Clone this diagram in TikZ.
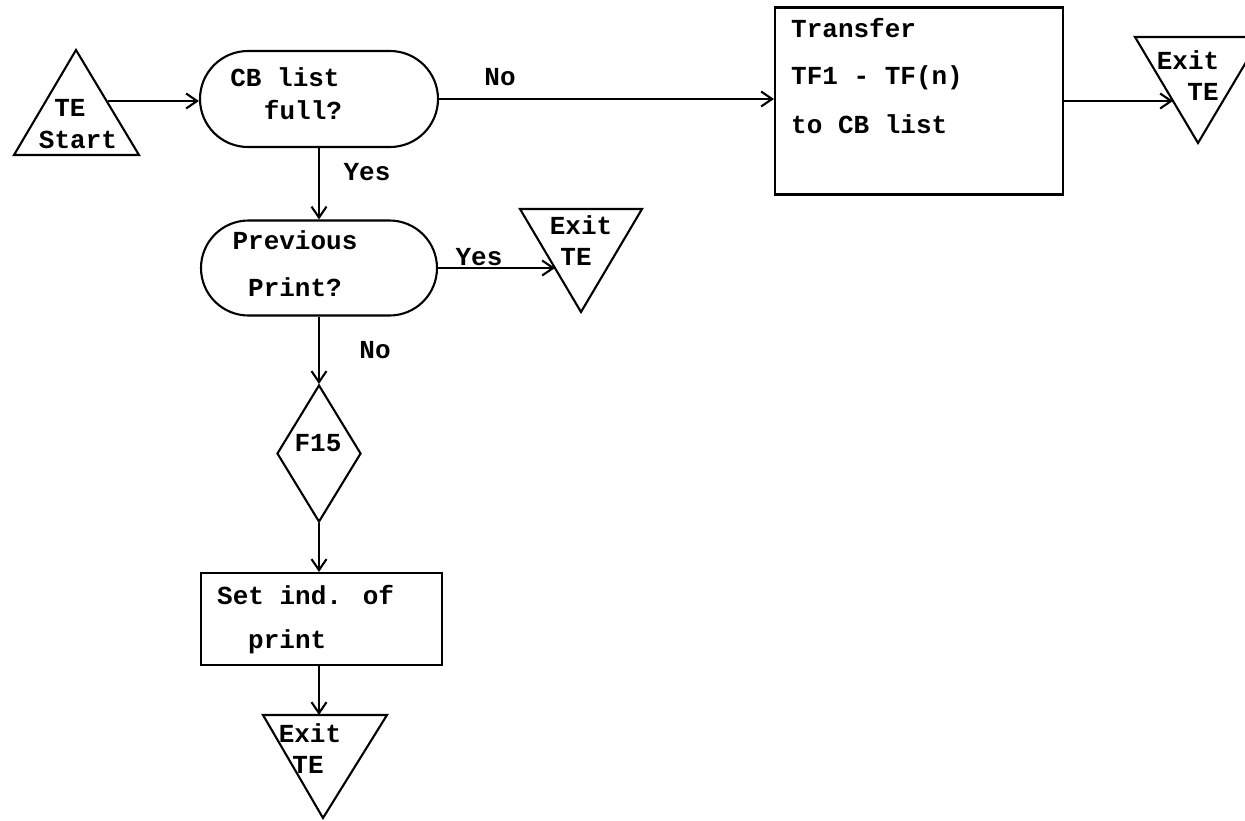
\documentclass[tikz,border=0pt]{standalone}
\usepackage{fontspec}
\setmainfont{Liberation Mono}
\usetikzlibrary{arrows.meta,shapes.misc,shapes.geometric}
\tikzset{
  lw/.style={line width=2.1pt},
  stadium/.style={draw, lw, rounded rectangle, inner sep=0pt},
  boxnode/.style={draw, lw, rectangle, inner sep=0pt},
  dia/.style={draw, lw, diamond, inner sep=0pt, aspect=1},
  tri/.style={draw, lw, line join=miter},
  arr/.style={draw, lw, -{Straight Barb[length=11pt,width=15pt,line width=2.1pt]}},
  txt/.style={inner sep=0pt, font=\bfseries\fontsize{26}{30}\selectfont},
}
\begin{document}
\begin{tikzpicture}[x=1pt,y=-1pt]
\useasboundingbox (0,0) rectangle (1245,820);
% start triangle
\draw[tri] (14,155) -- (76,50) -- (139,155) -- cycle;
\node[txt] (tSte) at (70,108) {TE};
\node[txt] (tSst) at (78,140) {Start};
\coordinate (stR) at (108,101);

% CB list full?
\node[stadium, minimum width=238pt, minimum height=96pt] (cb) at (319,99) {};
\node[txt] (tcb1) at (285,77) {CB list};
\node[txt] (tcb2) at (303,110) {full?};

% Transfer box
\node[boxnode, minimum width=288pt, minimum height=187pt] (tr) at (919,101) {};
\node[txt, anchor=west] (ttr1) at (791,28) {Transfer};
\node[txt, anchor=west] (ttr2) at (791,78) {TF1 - TF(n)};
\node[txt, anchor=west] (ttr3) at (791,124) {to CB list};

% right exit triangle
\draw[tri] (1135,37) -- (1261,37) -- (1198,143) -- cycle;
\node[txt] (tex2a) at (1188,60) {Exit};
\node[txt] (tex2b) at (1203,92) {TE};
\coordinate (ex2in) at (1173,101);

% Previous Print?
\node[stadium, minimum width=236pt, minimum height=95pt] (pp) at (319,268) {};
\node[txt] (tpp1) at (295,240) {Previous};
\node[txt] (tpp2) at (295,287) {Print?};

% middle exit triangle
\draw[tri] (520,209) -- (642,209) -- (581,312) -- cycle;
\node[txt] (tex1a) at (581,225) {Exit};
\node[txt] (tex1b) at (576,257) {TE};
\coordinate (ex1in) at (555,268);

% F15 diamond
\node[dia, minimum width=84pt, minimum height=137pt] (f15) at (319,453.5) {};
\node[txt] (tf15) at (318,443) {F15};

% Set ind. of print box
\node[boxnode, minimum width=241pt, minimum height=92pt] (sb) at (321.5,619) {};
\node[txt, anchor=west] (tsb1) at (217,595) {Set ind. of};
\node[txt, anchor=west] (tsb2) at (248,642) {print};

% bottom exit triangle
\draw[tri] (263,715) -- (387,715) -- (323,818) -- cycle;
\node[txt] (tex3a) at (310,733) {Exit};
\node[txt] (tex3b) at (308,765) {TE};
\coordinate (ex3top) at (319,715);

% connectors
\draw[arr] (stR) -- (stR -| cb.west);
\draw[arr] (cb.east) -- (cb.east -| tr.west);
\draw[arr] (tr.east) -- (ex2in);
\draw[arr] (cb.south) -- (pp.north);
\draw[arr] (pp.east) -- (ex1in);
\draw[arr] (pp.south) -- (f15.north);
\draw[arr] (f15.south) -- (f15.south |- sb.north);
\draw[arr] (ex3top |- sb.south) -- (ex3top);

% labels
\node[txt] (lno1) at (500,77) {No};
\node[txt] (lyes1) at (367,172) {Yes};
\node[txt] (lyes2) at (479,257) {Yes};
\node[txt] (lno2) at (375,350) {No};
\end{tikzpicture}
\end{document}
